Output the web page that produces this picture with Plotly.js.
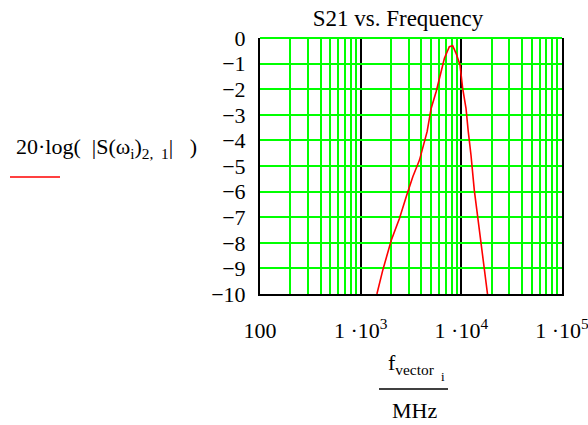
<!DOCTYPE html>
<html><head><meta charset="utf-8">
<script src="https://cdn.plot.ly/plotly-3.0.1.min.js"></script>
<style>body{margin:0;background:#fff}#c{width:588px;height:425px}</style>
</head><body><div id="c"></div>
<script>
var freq = [1450,1663,2014,2432,2835,3296,3838,4140,4571,5012,5617,6295,6792,7603,8204,8860,9705,10300,11130,11720,12470,13450,14500,15670,16900,18200];
var s21dB = [-10,-9.05,-7.9,-7.04,-6.2,-5.42,-4.77,-4.25,-3.66,-2.75,-2.1,-1.32,-0.79,-0.34,-0.3,-0.6,-1.05,-1.96,-2.75,-3.66,-4.57,-5.94,-6.98,-8.0,-9.2,-10];
var xTickVals = [100,1000,10000,100000];
var xTickText = ['100','1 ·10<sup>3</sup>','1 ·10<sup>4</sup>','1 ·10<sup>5</sup>'];
var yTickVals = [0,-1,-2,-3,-4,-5,-6,-7,-8,-9,-10];
var yTickText = ['0','−1','−2','−3','−4','−5','−6','−7','−8','−9','−10'];

var F = 'Liberation Serif, Times New Roman, serif';
var trace = {x:freq, y:s21dB, mode:'lines', line:{color:'#ff0000', width:1.6}, hoverinfo:'skip'};
function px(x){return (x-260)/302;}
function py(y){return (294-y)/256;}
var layout = {
  width:588, height:425,
  margin:{l:260, r:26, t:38, b:131},
  paper_bgcolor:'#fff', plot_bgcolor:'#fff',
  showlegend:false,
  font:{family:F, size:22, color:'#000'},
  title:{text:'S21 vs. Frequency', font:{family:F, size:23}, x:px(398), xref:'paper', xanchor:'center', y:1-18/425, yref:'container', yanchor:'middle'},
  xaxis:{type:'log', range:[2,5], tickmode:'array', tickvals:xTickVals, ticktext:xTickText,
    tickfont:{family:F, size:22}, ticklabeloverflow:'allow',
    showgrid:true, gridcolor:'#000', gridwidth:2, ticks:'', ticklabelstandoff:16,
    showline:true, linecolor:'#000', linewidth:2, mirror:false, zeroline:false,
    minor:{dtick:'D1', showgrid:true, gridcolor:'#00ff00', gridwidth:2, ticks:''}},
  yaxis:{range:[-10,0], tickmode:'array', tickvals:yTickVals, ticktext:yTickText,
    tickfont:{family:F, size:22}, ticklabeloverflow:'allow',
    showgrid:true, gridcolor:'#00ff00', gridwidth:2, ticks:'', ticklabelstandoff:8,
    showline:true, linecolor:'#000', linewidth:2, mirror:true, zeroline:false},
  shapes:[
    {type:'line', xref:'paper', yref:'paper', x0:0, x1:1, y0:1, y1:1, line:{color:'#00ff00', width:2}, layer:'above'},
    {type:'line', xref:'paper', yref:'paper', x0:px(10), x1:px(60), y0:py(177), y1:py(177), line:{color:'#ff0000', width:1.5}},
    {type:'line', xref:'paper', yref:'paper', x0:px(379), x1:px(448), y0:py(389), y1:py(389), line:{color:'#000', width:1.5}}
  ],
  annotations:[
    {xref:'paper', yref:'paper', x:px(14), y:py(148), xanchor:'left', yanchor:'middle', showarrow:false,
     text:'20·log(  |S(ω<sub>i</sub>)<sub>2,  1</sub>|   )', font:{family:F, size:22}},
    {xref:'paper', yref:'paper', x:px(411), y:py(364), xanchor:'center', yanchor:'middle', showarrow:false,
     text:'f<sub>vector</sub>', font:{family:F, size:22}},
    {xref:'paper', yref:'paper', x:px(443), y:py(376), xanchor:'center', yanchor:'middle', showarrow:false,
     text:'i', font:{family:F, size:13}},
    {xref:'paper', yref:'paper', x:px(414), y:py(410), xanchor:'center', yanchor:'middle', showarrow:false,
     text:'MHz', font:{family:F, size:22}}
  ]
};
Plotly.newPlot('c', [trace], layout, {staticPlot:true, displayModeBar:false});
</script></body></html>
